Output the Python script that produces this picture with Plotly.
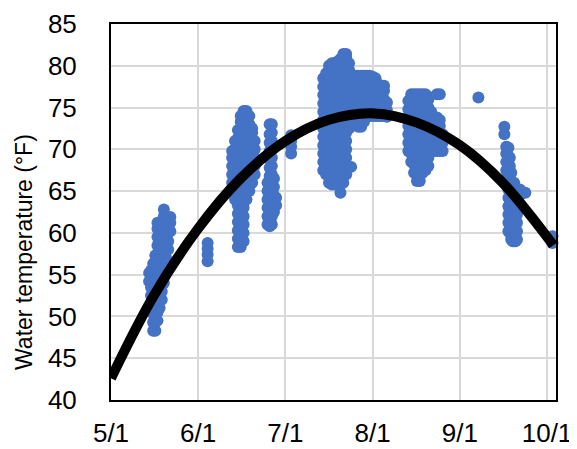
import plotly.graph_objects as go

# ---------------- data ----------------
may_dates = ["2023-05-14 08:00", "2023-05-15 00:00", "2023-05-15 18:00", "2023-05-16 12:00",
             "2023-05-17 06:00", "2023-05-18 00:00", "2023-05-18 18:00", "2023-05-19 12:00",
             "2023-05-20 06:00", "2023-05-21 00:00", "2023-05-21 18:00", "2023-06-03 19:00"]
may_temps = [
    [54.2, 55.2],
    [52.5, 53.5, 54.5, 55.5],
    [48.3, 49.3, 50.3, 51.3, 52.3, 53.3, 54.3, 55.3, 56.3],
    [48.3, 49.3, 50.3, 51.3, 52.3, 53.3, 54.3, 55.3, 56.3, 57.3],
    [49.5, 50.5, 51.5, 52.5, 53.5, 54.5, 55.5, 56.5, 57.5, 58.5, 59.5, 60.5, 61.2],
    [51.0, 52.0, 53.0, 54.0, 55.0, 56.0, 57.0, 58.0, 59.0, 60.0, 61.0],
    [52.0, 53.0, 54.0, 55.0, 56.0, 57.0, 58.0, 59.0, 60.0, 61.0],
    [54.0, 55.0, 56.0, 57.0, 58.0, 59.0, 60.0, 61.0, 62.0, 62.8],
    [56.0, 57.0, 58.0, 59.0, 60.0, 61.0],
    [58.0, 59.0, 60.0, 61.0],
    [60.2, 61.2, 61.9],
    [56.6, 57.4, 58.1, 58.8],
]

june_dates = ["2023-06-12 09:00", "2023-06-13 09:00", "2023-06-14 09:00", "2023-06-15 09:00",
              "2023-06-16 09:00", "2023-06-17 09:00", "2023-06-18 09:00", "2023-06-19 09:00",
              "2023-06-20 06:00", "2023-06-24 18:00", "2023-06-25 12:00", "2023-06-26 06:00",
              "2023-06-27 00:00", "2023-06-27 18:00", "2023-07-03 00:00"]
june_temps = [
    [66.0, 67.0, 68.0, 69.0, 69.8],
    [64.0, 65.0, 66.0, 67.0, 68.0, 69.0, 70.0, 71.0],
    [58.3, 59.3, 60.3, 61.3, 62.3, 63.3, 64.3, 65.3, 66.3, 67.3, 68.3, 69.3, 70.3, 71.3, 72.3],
    [58.3, 59.3, 60.3, 61.3, 62.3, 63.3, 64.3, 65.3, 66.3, 67.3, 68.3, 69.3, 70.3, 71.3, 72.3, 73.3, 74.0],
    [59.0, 60.0, 61.0, 62.0, 63.0, 64.0, 65.0, 66.0, 67.0, 68.0, 69.0, 70.0, 71.0, 72.0, 73.0, 74.0, 74.6],
    [64.0, 65.0, 66.0, 67.0, 68.0, 69.0, 70.0, 71.0, 72.0, 73.0, 74.0, 74.6],
    [65.0, 66.0, 67.0, 68.0, 69.0, 70.0, 71.0, 72.0, 73.0, 74.0],
    [66.0, 67.0, 68.0, 69.0, 70.0, 71.0, 72.0, 72.5],
    [67.0, 68.0, 69.0, 70.0, 71.0],
    [61.0, 62.0, 63.0, 64.0, 65.0, 66.0],
    [60.8, 61.8, 62.8, 63.8, 64.8, 65.8, 66.8, 67.8, 68.8, 69.8, 70.8, 71.8, 73.0],
    [61.0, 62.0, 63.0, 64.0, 65.0, 66.0, 67.0, 68.0, 69.0, 70.0, 71.0, 72.0, 73.0],
    [62.5, 63.5, 64.5, 65.5, 66.5],
    [63.3, 64.2],
    [69.5, 70.3, 71.0, 71.7],
]

july_dates = ["2023-07-14 06:00", "2023-07-15 06:00", "2023-07-16 06:00", "2023-07-17 06:00",
              "2023-07-18 06:00", "2023-07-19 06:00", "2023-07-20 06:00", "2023-07-21 06:00",
              "2023-07-22 06:00", "2023-07-23 06:00", "2023-07-24 00:00", "2023-07-24 12:00",
              "2023-07-25 12:00", "2023-07-26 12:00", "2023-07-27 12:00", "2023-07-28 12:00",
              "2023-07-29 12:00", "2023-07-30 12:00", "2023-07-31 12:00", "2023-08-01 12:00",
              "2023-08-02 12:00", "2023-08-03 12:00", "2023-08-04 12:00", "2023-08-05 12:00"]
july_temps = [
    [67.5, 68.5, 69.5, 70.5, 71.5, 72.5, 73.5, 74.5, 75.5, 76.5, 77.5, 78.5],
    [67.0, 68.0, 69.0, 70.0, 71.0, 72.0, 73.0, 74.0, 75.0, 76.0, 77.0, 78.0, 79.1],
    [66.0, 67.0, 68.0, 69.0, 70.0, 71.0, 72.0, 73.0, 74.0, 75.0, 76.0, 77.0, 78.0, 79.0, 80.0],
    [65.8, 66.8, 67.8, 68.8, 69.8, 70.8, 71.8, 72.8, 73.8, 74.8, 75.8, 76.8, 77.8, 78.8, 79.8, 80.3],
    [65.8, 66.8, 67.8, 68.8, 69.8, 70.8, 71.8, 72.8, 73.8, 74.8, 75.8, 76.8, 77.8, 78.8, 79.8, 80.3],
    [65.8, 66.8, 67.8, 68.8, 69.8, 70.8, 71.8, 72.8, 73.8, 74.8, 75.8, 76.8, 77.8, 78.8, 79.8, 80.5],
    [64.8, 65.8, 66.8, 67.8, 68.8, 69.8, 70.8, 71.8, 72.8, 73.8, 74.8, 75.8, 76.8, 77.8, 78.8, 79.8, 80.8],
    [66.0, 67.0, 68.0, 69.0, 70.0, 71.0, 72.0, 73.0, 74.0, 75.0, 76.0, 77.0, 78.0, 79.0, 80.0, 81.0, 81.4],
    [67.0, 68.0, 69.0, 70.0, 71.0, 72.0, 73.0, 74.0, 75.0, 76.0, 77.0, 78.0, 79.0, 80.0, 81.0, 81.4],
    [72.5, 73.5, 74.5, 75.5, 76.5, 77.5, 78.5, 79.5, 80.3],
    [67.9],
    [73.5, 74.5, 75.5, 76.5, 77.5, 78.5],
    [73.0, 74.0, 75.0, 76.0, 77.0, 78.0, 78.8],
    [72.7, 73.7, 74.7, 75.7, 76.7, 77.7, 78.8],
    [72.7, 73.7, 74.7, 75.7, 76.7, 77.7, 78.8],
    [73.3, 74.3, 75.3, 76.3, 77.3, 78.3, 78.8],
    [74.0, 75.0, 76.0, 77.0, 78.0, 78.8],
    [74.0, 75.0, 76.0, 77.0, 78.0, 78.8],
    [74.0, 75.0, 76.0, 77.0, 78.0, 78.7],
    [74.0, 75.0, 76.0, 77.0, 78.0, 78.5],
    [74.0, 75.0, 76.0, 77.0, 77.8],
    [74.0, 75.0, 76.0, 77.0, 77.6],
    [74.0, 75.0, 76.0, 77.0, 77.6],
    [73.9, 74.7, 75.6],
]

aug_dates = ["2023-08-13", "2023-08-14", "2023-08-15", "2023-08-16", "2023-08-17", "2023-08-18",
             "2023-08-19", "2023-08-20", "2023-08-21", "2023-08-22", "2023-08-23", "2023-08-24",
             "2023-08-25", "2023-09-06 12:00"]
aug_temps = [
    [69.8, 70.8, 71.8, 72.8, 73.8, 74.8, 75.8],
    [68.5, 69.5, 70.5, 71.5, 72.5, 73.5, 74.5, 75.5, 76.6],
    [67.2, 68.2, 69.2, 70.2, 71.2, 72.2, 73.2, 74.2, 75.2, 76.2, 76.6],
    [66.2, 67.2, 68.2, 69.2, 70.2, 71.2, 72.2, 73.2, 74.2, 75.2, 76.2, 76.6],
    [66.2, 67.2, 68.2, 69.2, 70.2, 71.2, 72.2, 73.2, 74.2, 75.2, 76.2, 76.6],
    [67.2, 68.2, 69.2, 70.2, 71.2, 72.2, 73.2, 74.2, 75.2, 76.2, 76.6],
    [67.5, 68.5, 69.5, 70.5, 71.5, 72.5, 73.5, 74.5, 75.5, 76.6],
    [68.0, 69.0, 70.0, 71.0, 72.0, 73.0, 74.0, 75.0, 76.0, 76.3],
    [69.8, 70.8, 71.8, 72.8, 73.8, 74.5],
    [69.8, 70.8, 71.8, 72.8, 73.8],
    [69.8, 70.8, 71.8, 72.8, 73.8, 76.6],
    [69.8, 70.8, 71.8, 72.8, 73.5, 76.6],
    [69.8, 70.8, 71.8],
    [76.2],
]

sep_dates = ["2023-09-15 14:00", "2023-09-16 06:00", "2023-09-17 00:00", "2023-09-17 12:00",
             "2023-09-18 00:00", "2023-09-18 12:00", "2023-09-19 00:00", "2023-09-19 12:00",
             "2023-09-20 00:00", "2023-09-21 00:00", "2023-09-22 22:00", "2023-10-02 10:00"]
sep_temps = [
    [71.8, 72.7],
    [66.5, 67.5, 68.5, 69.5, 70.3],
    [60.2, 61.2, 62.2, 63.2, 64.2, 65.2, 66.2, 67.2, 68.2, 69.2, 70.2],
    [60.0, 61.0, 62.0, 63.0, 64.0, 65.0, 66.0, 67.0, 68.0, 69.0],
    [59.2, 60.2, 61.2, 62.2, 63.2, 64.2, 65.2, 66.2, 67.2],
    [59.0, 60.0, 61.0, 62.0, 63.0, 64.0, 65.0, 66.0],
    [59.0, 60.0, 61.0, 62.0, 63.0, 64.0, 65.0, 66.0],
    [59.0, 60.0, 61.0, 62.0, 63.0, 64.0, 65.0],
    [59.2, 60.2, 61.2, 62.2, 63.2, 64.2, 65.2],
    [64.5, 65.2],
    [64.8],
    [58.8, 59.6],
]

# polynomial trendline, read at a few dates
trend_dates = ["2023-05-01", "2023-05-16", "2023-05-31", "2023-06-15", "2023-07-01", "2023-07-16",
               "2023-08-01", "2023-08-16", "2023-08-31", "2023-09-15", "2023-10-01", "2023-10-02 17:00"]
trend_temps = [42.6, 52.5, 60.3, 66.4, 71.0, 73.5, 74.3, 73.2, 70.5, 66.0, 59.3, 58.5]

x_tick_dates = ["2023-05-01", "2023-05-31 12:00", "2023-07-01", "2023-07-31 12:00",
                "2023-08-31", "2023-09-30 12:00"]
x_tick_labels = ["5/1", "6/1", "7/1", "8/1", "9/1", "10/1"]
y_ticks = [40, 45, 50, 55, 60, 65, 70, 75, 80, 85]
y_title = "Water temperature (°F)"

# ---------------- build figure ----------------
obs_x, obs_y = [], []
for dates, temps in [(may_dates, may_temps), (june_dates, june_temps), (july_dates, july_temps),
                     (aug_dates, aug_temps), (sep_dates, sep_temps)]:
    for d, col in zip(dates, temps):
        for v in col:
            obs_x.append(d)
            obs_y.append(v)

FONT = "Liberation Sans, Arial, sans-serif"

fig = go.Figure()
fig.add_trace(go.Scatter(
    x=obs_x, y=obs_y, mode="markers",
    marker=dict(size=12, color="#4472C4", line=dict(width=0)),
    cliponaxis=False, showlegend=False, hoverinfo="skip"))
fig.add_trace(go.Scatter(
    x=trend_dates, y=trend_temps, mode="lines",
    line=dict(color="black", width=10, shape="spline"),
    showlegend=False, hoverinfo="skip"))

axis_common = dict(showgrid=True, gridcolor="#D9D9D9", gridwidth=1.5, automargin=False,
                   showline=True, linecolor="black", linewidth=2, mirror=True,
                   zeroline=False, ticks="", tickfont=dict(family=FONT, size=26, color="black"))

fig.update_xaxes(type="date", range=["2023-05-01", "2023-10-03 15:30"],
                 tickmode="array", tickvals=x_tick_dates, ticktext=x_tick_labels,
                 ticklabelstandoff=9, **axis_common)
fig.update_yaxes(range=[40, 85], tickmode="array", tickvals=y_ticks,
                 ticktext=[str(v) for v in y_ticks], ticklabelstandoff=27, **axis_common)

fig.add_annotation(text=y_title, xref="paper", yref="paper",
                   x=-0.1955, y=0.3936, xanchor="center", yanchor="middle",
                   textangle=-90, showarrow=False,
                   font=dict(family=FONT, size=23, color="black"))

# the page body adds an 8 px offset, so the figure is 8 px smaller with shifted margins
fig.update_layout(width=569, height=441, margin=dict(l=103, r=21, t=16, b=49),
                  plot_bgcolor="white", paper_bgcolor="white")

fig.write_html("out.html")
